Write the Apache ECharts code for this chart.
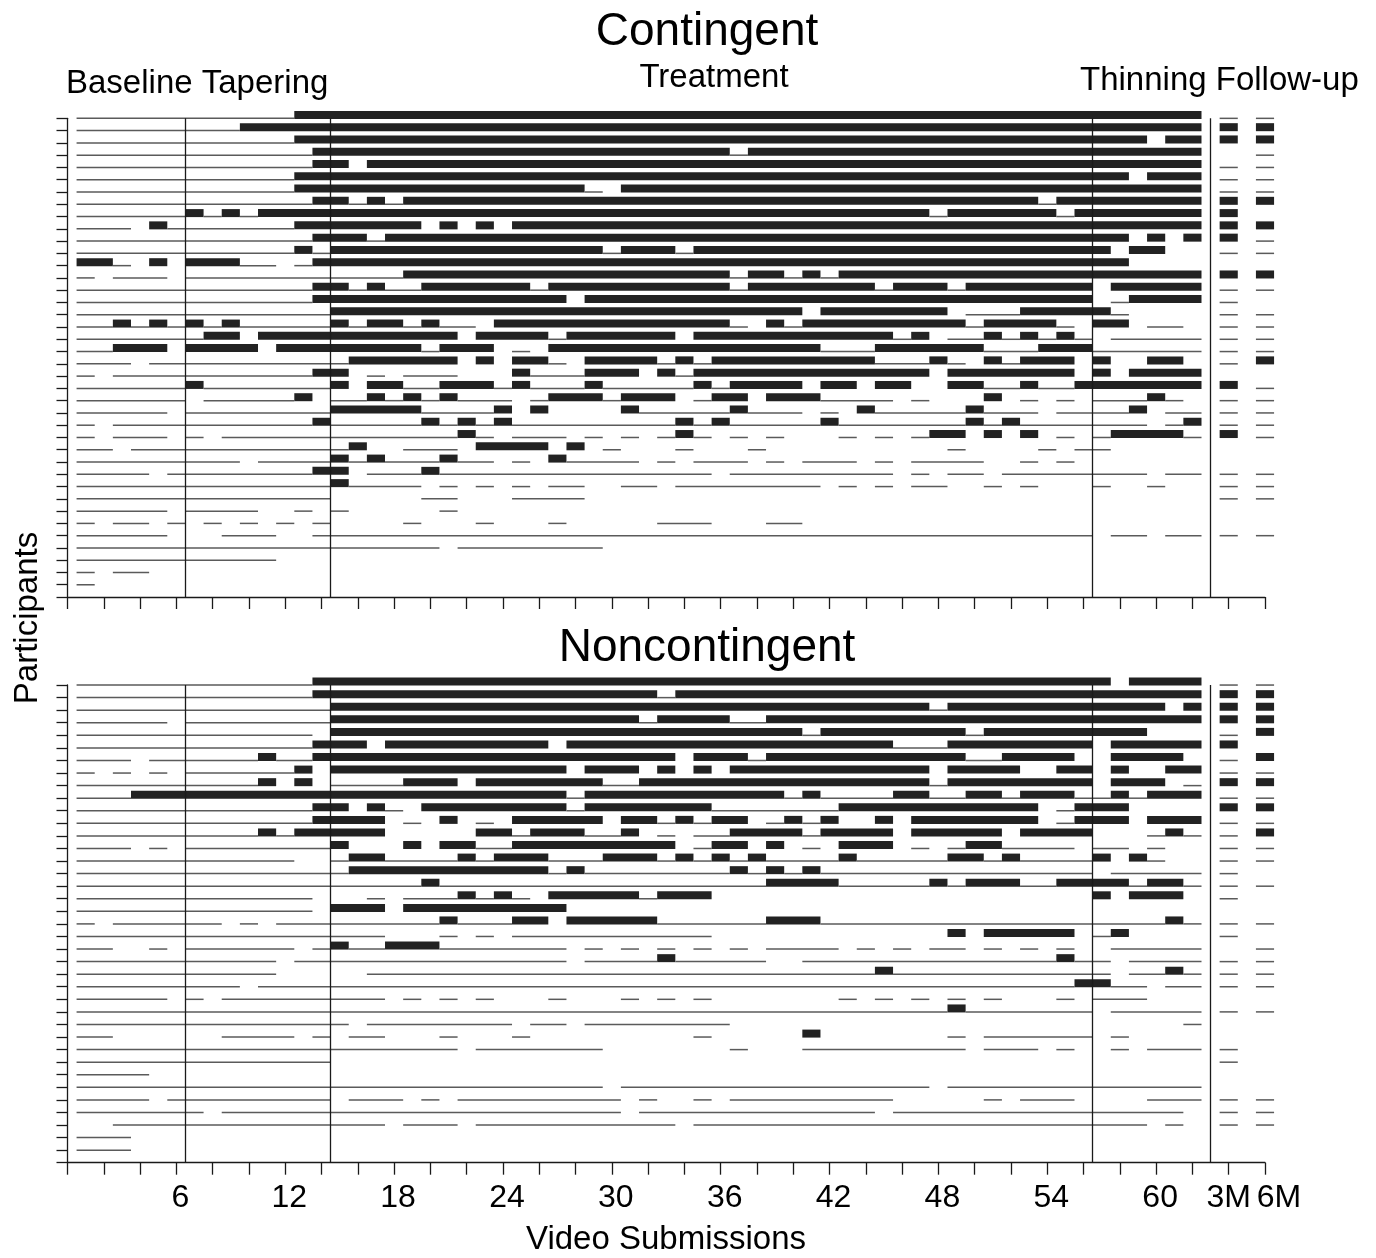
<!DOCTYPE html>
<html>
<head>
<meta charset="utf-8">
<script src="https://cdn.jsdelivr.net/npm/echarts@6/dist/echarts.min.js"></script>
<style>
html,body{margin:0;padding:0;background:#fff;}
#chart{width:1376px;height:1258px;}
</style>
</head>
<body>
<div id="chart"></div>
<script>
// Cell codes: L = submitted (thin line), B = thick bar, O = no mark. Tokens are run lengths over submissions 1..62.
// After "/" : follow-up marks at 3M and 6M.
const contingentRows = [
  "L12 B50/LL",
  "L9 B53/BB",
  "L12 B47 O1 B2/BB",
  "L13 B23 L1 B25/OL",
  "L13 B2 O1 B46/LL",
  "L12 B46 O1 B3/LL",
  "L12 B16 L1 O1 B32/LL",
  "L13 B2 L1 B1 L1 B35 L1 B8/BB",
  "L6 B1 L1 B1 L1 B37 L1 B6 L1 B7/BO",
  "L3 O1 B1 L7 B7 O1 B1 O1 B1 O1 B38/BB",
  "L13 B3 L1 B41 O1 B1 O1 B1/BL",
  "L12 B1 L1 B15 L1 B3 L1 B23 O1 B2 O2/LL",
  "B2 L1 O1 B1 O1 B3 L2 O1 L1 B45 O4/OO",
  "L1 O1 L3 O1 L12 B18 L1 B2 L1 B1 L1 B20/BB",
  "L13 B2 L1 B1 L2 B6 L1 B10 L1 B7 L1 B3 L1 B7 O1 B5/LL",
  "L13 B14 O1 B28 O1 L1 B4/LO",
  "L14 B26 O1 B7 O1 L3 B5 L1 O4/LL",
  "L2 B1 L1 B1 L1 B1 L1 B1 L5 B1 L1 B2 L1 B1 L2 O1 B13 L1 O1 B1 L1 B9 L1 B4 L1 O1 B2 O1 L2 O1/LL",
  "L7 B2 O1 B11 O1 B4 L1 B6 O1 B11 L1 B1 O1 L2 B1 L1 B1 L1 B1 L1 O1 L5/LL",
  "L2 B3 O1 B4 O1 B8 L1 B3 O1 L1 O1 B15 L3 B6 L3 B3 L6/LL",
  "L3 O1 L11 B6 O1 B1 O1 B2 L1 O1 B4 L1 B1 L1 B9 L3 B1 L1 O1 B1 L1 B3 O1 B1 O2 B2 O1/LB",
  "L1 O1 L11 B2 O1 L1 O1 L3 O3 B1 L3 B3 O1 B1 L1 B13 O1 B7 O1 B1 O1 B4/OO",
  "L6 B1 L7 B1 O1 B2 L2 B3 L1 B1 L3 B1 L5 B1 L1 B4 O1 B2 O1 B2 O2 B2 L2 B1 L2 B7/BL",
  "L6 O1 L5 B1 O1 L2 B1 L1 B1 L1 B1 L3 O1 L1 B3 L1 B3 O1 L1 B2 O1 B3 L4 O1 L1 O3 B1 O1 L1 O1 L1 O1 L3 B1 L1 O1/LL",
  "L5 O1 L8 B5 L4 B1 O1 B1 O4 B1 L5 B1 L3 O1 L1 O1 B1 L5 B1 L3 O1 L4 B1 O1 L2/LL",
  "L1 O1 L11 B1 L5 B1 L1 B1 L1 B1 L9 B1 L1 B1 L5 B1 L7 B1 L1 B1 L7 O1 L1 B1/LL",
  "L1 O1 L3 O1 L1 O1 L13 B1 L1 O1 L3 O1 L1 O1 L1 O1 L1 B1 L1 O1 L1 O1 L1 O3 L1 O1 L1 O1 L1 B2 O1 B1 O1 B1 O1 L1 O1 L1 B4 L1/BL",
  "L2 O1 L12 B1 O2 L3 O1 B4 O1 B1 O1 L1 O3 L1 O3 L1 O10 L1 O4 L1 O1 L2 O5/OO",
  "L9 O1 L4 B1 L1 B1 L3 B1 L2 O1 L1 O1 B1 L4 O1 L1 O1 L3 O1 L1 O1 L3 O1 L1 O1 L4 O2 L1 O1 L1 O7/OO",
  "L4 O1 L8 B2 O1 L3 B1 L15 O1 L9 O1 L1 O1 L2 O1 L8 O1 L2/LL",
  "L14 B1 L4 O1 L1 O1 L1 O1 L1 O1 L2 O2 L2 O1 L8 O1 L1 O1 L1 O1 L2 O2 L1 O1 L1 O3 L1 O2 L1 O2/LL",
  "L14 O5 L2 O3 L4/LL",
  "L5 O1 L4 O2 L1 O1 L1 O5 L1/OO",
  "L1 O1 L2 O1 L1 O1 L1 O1 L1 O1 L1 O1 L1 O4 L1 O3 L1 O3 L1 O5 L3 O3 L2/OO",
  "L5 O3 L3 O2 L43 O1 L2 O1 L2/LL",
  "L20 O1 L8/OO",
  "L11/OO",
  "L1 O1 L2/OO",
  "L1/OO"
];

const noncontingentRows = [
  "L13 B44 O1 B4/LL",
  "L13 B19 L1 B29/BB",
  "L14 B33 L1 B12 O1 B1/BB",
  "L5 O1 L8 B17 L1 B4 L2 B24/BB",
  "L13 O1 B26 L1 B8 L1 B9 O3/LB",
  "L13 B3 O1 B9 O1 B18 L3 B8 O1 B5/BO",
  "L3 O1 L6 B1 L2 B20 O1 B3 L1 B11 L2 B4 O2 B4 O1/LB",
  "L1 O1 L1 O1 L1 O1 L6 B1 O1 B13 O1 B3 O1 B1 O1 B1 O1 B11 O1 B4 O2 B2 O1 B1 O2 B2/LL",
  "L10 B1 O1 B1 O1 L4 B3 O1 B7 L2 B16 L1 B8 O1 B3 O1 L1/BB",
  "L3 B24 L1 B11 L1 B1 L4 B2 L2 B2 L1 B3 L2 B1 L1 B3/LL",
  "L13 B2 O1 B1 L1 O1 B8 L1 B7 L7 B11 O1 L1 B3 O4/BB",
  "L13 B4 O1 L1 O1 B1 O1 L1 O1 B5 O1 B2 L1 B1 L1 B2 O1 L1 B1 L1 B1 O2 B1 O1 B7 O1 L1 B3 O1 B3/LL",
  "L10 B1 L1 B5 O5 B2 L1 B3 L2 B1 O1 L1 O1 L2 B4 L1 B4 O1 B5 O1 B4 O3 L1 B1 L1/LB",
  "L3 O1 L1 O1 L8 B1 O3 B1 O1 B2 L2 B9 O1 L1 B2 O1 B1 O1 L1 O1 B3 O1 L1 O1 L1 B2 L4 O1 L2 O1 L1 O2/LL",
  "L12 O2 L1 B2 L4 B1 L1 B3 L3 B3 L1 B1 L1 B1 L1 B1 L4 B1 L5 B2 L1 B1 L4 B1 O1 B1 L1 O2/LL",
  "L15 B11 L1 B1 L8 B1 L1 B1 L1 B1 L15 O1 L5/LO",
  "L19 B1 L18 B4 L5 B1 L1 B3 L2 B4 L1 B2 L1/LL",
  "L13 O3 L1 O1 L3 B1 L1 B1 L1 O1 B5 L1 B3 O21 B1 O1 B3 O1/LO",
  "L13 O1 B3 O1 B9/OO",
  "L1 O1 L6 O1 L1 O1 L9 B1 L3 B2 O1 B5 L6 B3 L19 B1 L1/LL",
  "L17 O3 L1 O1 L1 O1 L11 O13 B1 O1 B5 O1 L1 B1 O4/LO",
  "L2 O2 L1 O1 L6 O1 L1 B1 L2 B3 L7 O1 L1 O1 L1 O1 L1 O1 L1 O1 L1 O1 L4 O1 L1 O1 L1 O1 L2 O1 L1 O1 L1 O1 L1 O2 L5/OL",
  "L11 O1 L15 O1 L4 B1 L5 O2 L14 B1 L2 O1 L4/LL",
  "L11 O5 L28 B1 L12 O1 L2 B1 L1/LL",
  "L9 O1 L45 B2 L2 O1 L2/LL",
  "L5 O1 L1 O1 L9 O1 L1 O1 L1 O1 L1 O3 L1 O3 L1 O1 L1 O1 L1 O7 L1 O1 L1 O1 L1 O1 L1 O1 L1 O3 L1 O1 L3/OO",
  "L48 B1 L7 O1 L5/LL",
  "L15 O1 L8 O1 L2 O1 L8 O25 L1/OO",
  "L2 O6 L4 O1 L1 O1 L2 O3 L1 O3 L1 O9 L1 O5 B1 O7 L1 O1 L6 O1 L1/OO",
  "L21 O1 L7 O7 L1 O3 L9 O1 L3 O1 L1 O2 L1 O1 L3/LO",
  "L14/LO",
  "L4/OO",
  "L29 O1 L17 O1 L14/OO",
  "L4 O1 L9 O1 L3 O1 L1 O1 L9 O1 L1 O2 L1 O1 L9 O5 L1 O1 L3 O4 L3/LL",
  "L7 O1 L22 O1 L13 O1 L16 O1/LL",
  "O2 L15 O1 L3 O1 L11 O1 L25 O1 L1 O1/LL",
  "L3/OO",
  "L3/OO"
];

const followUpPositions = [64, 66];          // 3M, 6M columns on the x scale
const phaseBoundaries = [6.5, 14.5, 56.5, 63]; // vertical phase lines
const tickValues = [6, 12, 18, 24, 30, 36, 42, 48, 54, 60, 64, 66];
const tickTexts  = ['6', '12', '18', '24', '30', '36', '42', '48', '54', '60', '3M', '6M'];
const phaseNames = ['Baseline Tapering', 'Treatment', 'Thinning Follow-up'];
const panelTitles = ['Contingent', 'Noncontingent'];

function buildRuns(rows) {
  const out = [];
  rows.forEach((str, ri) => {
    const row = ri + 1;
    const parts = str.split('/');
    const cells = [];
    parts[0].trim().split(/\s+/).forEach(tok => {
      const k = tok[0], n = parseInt(tok.slice(1), 10);
      for (let i = 0; i < n; i++) cells.push(k);
    });
    let i = 0;
    while (i < cells.length) {
      const k = cells[i];
      let j = i;
      while (j + 1 < cells.length && cells[j + 1] === k) j++;
      if (k === 'L' || k === 'B') out.push([i + 1, j + 1, row, k === 'B' ? 1 : 0]);
      i = j + 1;
    }
    const fu = (parts[1] || '').trim();
    for (let f = 0; f < fu.length; f++) {
      const k = fu[f];
      if (k === 'L' || k === 'B') out.push([followUpPositions[f], followUpPositions[f], row, k === 'B' ? 1 : 0]);
    }
  });
  return out;
}

function renderItem(params, api) {
  const x0 = api.value(0), x1 = api.value(1), row = api.value(2), kind = api.value(3);
  const p0 = api.coord([x0 - 0.5, row]);
  const p1 = api.coord([x1 + 0.5, row]);
  const w = p1[0] - p0[0];
  if (kind === 1) {
    return { type: 'rect', shape: { x: p0[0], y: p0[1] - 7.4, width: w, height: 8 }, style: { fill: '#222222' } };
  }
  return { type: 'rect', shape: { x: p0[0], y: p0[1] - 0.7, width: w, height: 1.5 }, style: { fill: '#5a5a5a' } };
}

const FONT = "'Liberation Sans', Arial, Helvetica, sans-serif";
const axisColor = '#1a1a1a';

function xAxisCfg(gridIndex, showLabels) {
  return {
    type: 'value', gridIndex: gridIndex, min: 0, max: 66, interval: 2,
    splitLine: { show: false },
    axisLine: { show: true, lineStyle: { color: axisColor, width: 1.3 } },
    axisTick: { show: true, length: 12, lineStyle: { color: axisColor, width: 1.3 } },
    axisLabel: {
      show: showLabels, margin: 19, color: '#000', fontFamily: FONT, fontSize: 32,
      formatter: function (v) {
        const idx = tickValues.indexOf(v);
        if (idx < 0) return '';
        const t = tickTexts[idx];
        if (t === '6M') return '{f|' + t + '}';
        if (t === '3M') return '{m|' + t + '}';
        return '{n|' + t + '}';
      },
      rich: {
        n: { fontFamily: FONT, fontSize: 32, color: '#000', padding: [0, 0, 0, 8] },
        m: { fontFamily: FONT, fontSize: 32, color: '#000', padding: [0, 0, 0, 0] },
        f: { fontFamily: FONT, fontSize: 32, color: '#000', padding: [0, 0, 0, 28] }
      }
    }
  };
}
function yAxisCfg(gridIndex, n) {
  return {
    type: 'value', gridIndex: gridIndex, min: 1, max: n + 1, interval: 1, inverse: true,
    splitLine: { show: false },
    axisLine: { show: true, lineStyle: { color: axisColor, width: 1.3 } },
    axisTick: { show: true, length: 11, lineStyle: { color: axisColor, width: 1.3 } },
    axisLabel: { show: false }
  };
}
function seriesCfg(idx, rows) {
  return {
    type: 'custom', xAxisIndex: idx, yAxisIndex: idx, clip: false,
    renderItem: renderItem, data: buildRuns(rows), silent: true, animation: false,
    encode: { x: [0, 1], y: 2 },
    markLine: {
      silent: true, symbol: ['none', 'none'], animation: false,
      label: { show: false },
      lineStyle: { color: '#1a1a1a', width: 1.3, type: 'solid' },
      data: phaseBoundaries.map(v => ({ xAxis: v }))
    }
  };
}

const chart = echarts.init(document.getElementById('chart'), null, { renderer: 'canvas' });
chart.setOption({
  backgroundColor: '#ffffff',
  animation: false,
  grid: [
    { left: 67.5, width: 1197.5, top: 118.3, height: 478.7 },
    { left: 67.5, width: 1197.5, top: 685, height: 477.7 }
  ],
  xAxis: [xAxisCfg(0, false), xAxisCfg(1, true)],
  yAxis: [yAxisCfg(0, contingentRows.length), yAxisCfg(1, noncontingentRows.length)],
  series: [seriesCfg(0, contingentRows), seriesCfg(1, noncontingentRows)],
  graphic: [
    { type: 'text', x: 707, y: 32, style: { text: panelTitles[0], font: '46px ' + FONT, fill: '#000', textAlign: 'center', textVerticalAlign: 'middle' }, silent: true },
    { type: 'text', x: 707, y: 648, style: { text: panelTitles[1], font: '46px ' + FONT, fill: '#000', textAlign: 'center', textVerticalAlign: 'middle' }, silent: true },
    { type: 'text', x: 66, y: 84, style: { text: phaseNames[0], font: '33px ' + FONT, fill: '#000', textAlign: 'left', textVerticalAlign: 'middle' }, silent: true },
    { type: 'text', x: 714, y: 78, style: { text: phaseNames[1], font: '33px ' + FONT, fill: '#000', textAlign: 'center', textVerticalAlign: 'middle' }, silent: true },
    { type: 'text', x: 1080, y: 81, style: { text: phaseNames[2], font: '33px ' + FONT, fill: '#000', textAlign: 'left', textVerticalAlign: 'middle' }, silent: true },
    { type: 'text', x: 28, y: 618, rotation: Math.PI / 2, style: { text: 'Participants', font: '33px ' + FONT, fill: '#000', textAlign: 'center', textVerticalAlign: 'middle' }, silent: true },
    { type: 'text', x: 666, y: 1240, style: { text: 'Video Submissions', font: '33px ' + FONT, fill: '#000', textAlign: 'center', textVerticalAlign: 'middle' }, silent: true }
  ]
});
</script>
</body>
</html>
